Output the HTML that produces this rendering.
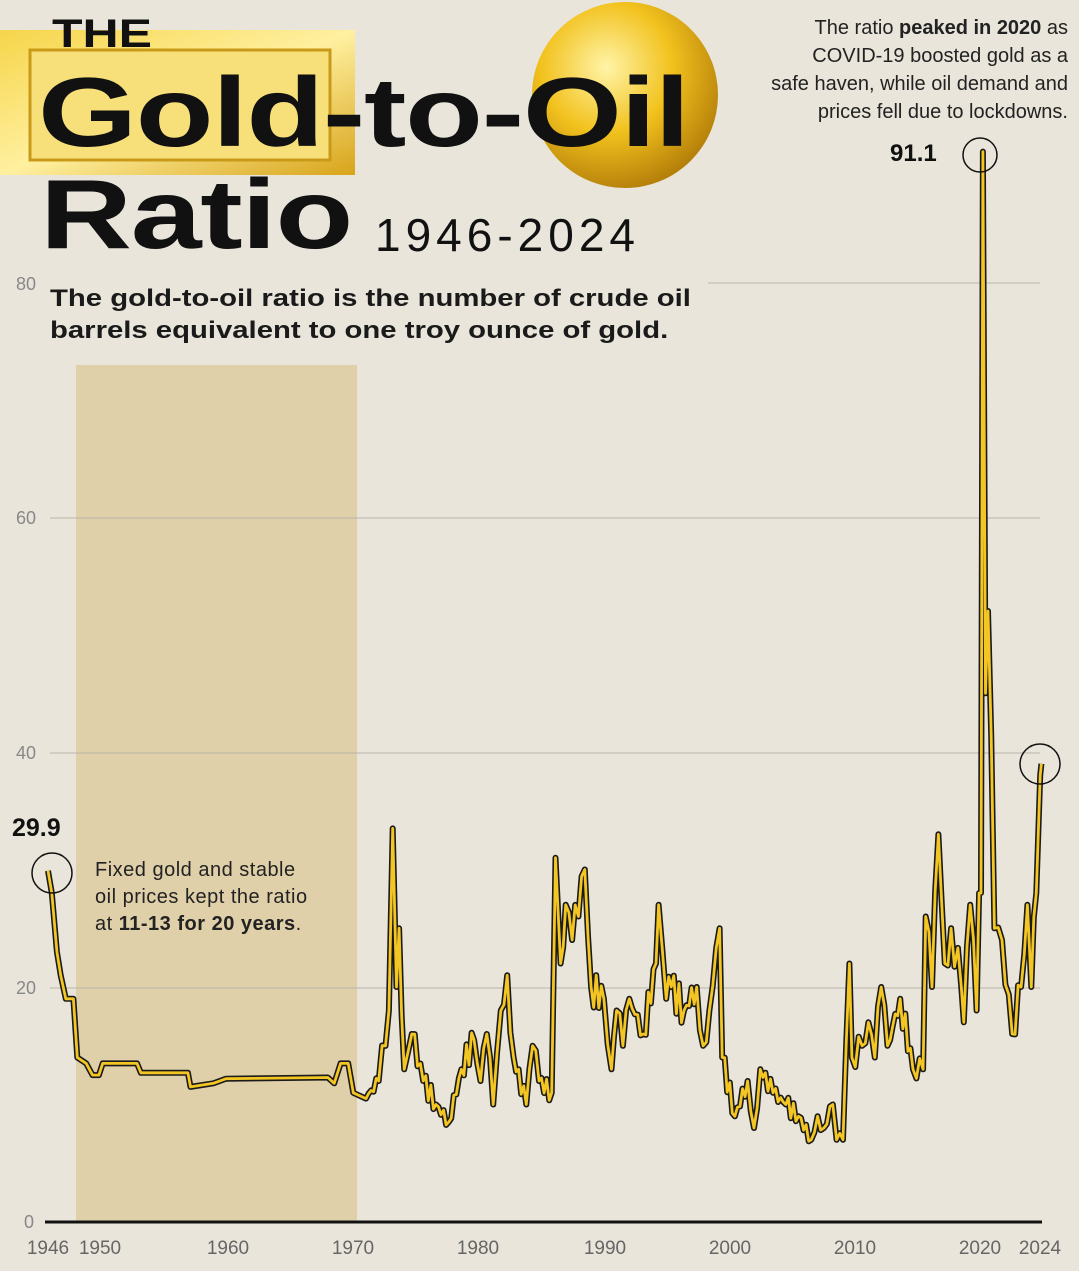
<!DOCTYPE html>
<html><head><meta charset="utf-8">
<style>
html,body{margin:0;padding:0;}
body{width:1079px;height:1271px;background:#e9e5da;position:relative;overflow:hidden;font-family:"Liberation Sans",sans-serif;}
.t{position:absolute;white-space:nowrap;}
</style></head><body>
<svg width="1079" height="1271" style="position:absolute;left:0;top:0">
<defs>
<linearGradient id="bar" x1="0" y1="0" x2="1" y2="1">
<stop offset="0" stop-color="#f6d54a"/><stop offset="0.5" stop-color="#fff0a0"/><stop offset="1" stop-color="#d8a41a"/></linearGradient>
<radialGradient id="drop" cx="0.4" cy="0.35" r="0.7">
<stop offset="0" stop-color="#fff4a8"/><stop offset="0.5" stop-color="#f2c21e"/><stop offset="1" stop-color="#b07a08"/></radialGradient>
</defs>
<rect x="76" y="365" width="281" height="857" fill="#e0d0aa"/>
<g stroke="#b9b5aa" stroke-width="1">
<line x1="708" y1="283" x2="1040" y2="283"/>
<line x1="50" y1="518" x2="1040" y2="518"/>
<line x1="50" y1="753" x2="1040" y2="753"/>
<line x1="50" y1="988" x2="1040" y2="988"/>
</g>
<line x1="45" y1="1222" x2="1042" y2="1222" stroke="#111" stroke-width="3"/>
<rect x="0" y="30" width="355" height="145" fill="url(#bar)"/>
<rect x="30" y="50" width="300" height="110" fill="#f7e07a" stroke="#c99a18" stroke-width="3"/>
<circle cx="625" cy="95" r="93" fill="url(#drop)"/>
<path id="ln" d="" fill="none" stroke="#1a1a1a" stroke-width="6" stroke-linejoin="round"/>
<path id="ln2" d="" fill="none" stroke="#f3c623" stroke-width="2.8" stroke-linejoin="round"/>
<g fill="none" stroke="#111" stroke-width="1.5">
<circle cx="980" cy="155" r="17"/>
<circle cx="1040" cy="764" r="20"/>
<circle cx="52" cy="873" r="20"/>
</g>
</svg>
<div class="t" style="left:52px;top:12px;font-size:40px;font-weight:900;color:#111;transform:scaleX(1.25);transform-origin:0 0;">THE</div>
<div class="t" style="left:38px;top:56px;font-size:98px;font-weight:900;color:#111;letter-spacing:-1px;transform:scaleX(1.3);transform-origin:0 0;">Gold-to-Oil</div>
<div class="t" style="left:40px;top:158px;font-size:98px;font-weight:900;color:#111;letter-spacing:-1px;transform:scaleX(1.3);transform-origin:0 0;">Ratio</div>
<div class="t" style="left:375px;top:208px;font-size:46px;color:#111;letter-spacing:5px;">1946-2024</div>
<div class="t" style="left:50px;top:283px;font-size:24px;font-weight:bold;color:#1a1a1a;line-height:32px;transform:scaleX(1.22);transform-origin:0 0;">The gold-to-oil ratio is the number of crude oil<br>barrels equivalent to one troy ounce of gold.</div>
<div class="t" style="right:11px;top:14px;font-size:20px;color:#222;line-height:28px;text-align:right;">The ratio <b>peaked in 2020</b> as<br>COVID-19 boosted gold as a<br>safe haven, while oil demand and<br>prices fell due to lockdowns.</div>
<div class="t" style="left:890px;top:140px;font-size:24px;font-weight:900;color:#111;">91.1</div>
<div class="t" style="left:12px;top:814px;font-size:25px;font-weight:900;color:#111;">29.9</div>
<div class="t" style="left:95px;top:857px;font-size:20px;color:#222;line-height:27px;letter-spacing:0.5px;">Fixed gold and stable<br>oil prices kept the ratio<br>at <b>11-13 for 20 years</b>.</div>
<div class="t" style="left:16px;top:274px;font-size:18px;color:#888;">80</div>
<div class="t" style="left:16px;top:508px;font-size:18px;color:#888;">60</div>
<div class="t" style="left:16px;top:743px;font-size:18px;color:#888;">40</div>
<div class="t" style="left:16px;top:978px;font-size:18px;color:#888;">20</div>
<div class="t" style="left:24px;top:1212px;font-size:18px;color:#888;">0</div>
<div id="xl"></div>
<script>
var X=function(y){return 48+(y-1946)*12.72;},Y=function(v){return 1222-v*11.75;};
var d=[[1946,29.9],[1946.3,28],[1946.7,23],[1947,21],[1947.4,19],[1948,19],[1948.3,14],[1949,13.5],[1949.5,12.5],[1950,12.5],[1950.3,13.5],[1953,13.5],[1953.3,12.7],[1957,12.7],[1957.2,11.5],[1959,11.8],[1960,12.2],[1968,12.3],[1968.5,11.8],[1969,13.5],[1969.6,13.5],[1970,11],[1971,10.5],[1972,12],[1972.8,18],[1973.1,33.5],[1973.4,20],[1973.6,25],[1974,13],[1974.6,16],[1975.5,12],[1976.5,10],[1977.5,8.5],[1978.5,13],[1979.5,15.5],[1980,12],[1980.5,16],[1981,10],[1981.6,18],[1982.1,21],[1982.6,14],[1983.6,10],[1984.1,15],[1984.6,12],[1985.6,11],[1985.9,31],[1986.3,22],[1986.7,27],[1987.2,24],[1987.7,26],[1988.2,30],[1988.7,20],[1989.7,19],[1990.3,13],[1990.7,18],[1991.2,15],[1991.7,19],[1992.8,16],[1993.8,22],[1994,27],[1994.6,19],[1995,20],[1996,18],[1997,20],[1997.5,15],[1998,18],[1998.8,25],[1999,14],[2000,9],[2001,12],[2001.5,8],[2002,13],[2003,11],[2004,10],[2005,9],[2006,7],[2006.5,9],[2007,8],[2007.7,10],[2008,7],[2008.5,7],[2009,22],[2009.2,14],[2010,15],[2010.5,17],[2011,14],[2011.5,20],[2012,15],[2013,19],[2014,13],[2014.8,13],[2015,26],[2015.5,20],[2016,33],[2016.5,22],[2017,25],[2017.8,20],[2018,17],[2018.5,27],[2019,18],[2019.2,28],[2019.35,28],[2019.5,91.1],[2019.7,45],[2019.9,52],[2020.4,25],[2021,24],[2021.8,16],[2022.5,20],[2023,27],[2023.3,20],[2023.7,28],[2024,38],[2024.1,39]];
var pts=[];
for(var i=0;i<d.length-1;i++){var a=d[i],b=d[i+1];pts.push(a);var n=Math.floor((b[0]-a[0])*5);
 if(a[0]>1970&&n>1){for(var k=1;k<n;k++){var f=k/n;var v=a[1]+(b[1]-a[1])*f;v+=Math.sin(i*7.3+k*2.9)*v*0.08;pts.push([a[0]+(b[0]-a[0])*f,v]);}}}
pts.push(d[d.length-1]);
var p="M"+pts.map(function(a){return X(a[0]).toFixed(1)+","+Y(a[1]).toFixed(1)}).join(" L");
document.getElementById("ln").setAttribute("d",p);document.getElementById("ln2").setAttribute("d",p);
var h="";[[1946,48],[1950,100],[1960,228],[1970,353],[1980,478],[1990,605],[2000,730],[2010,855],[2020,980],[2024,1040]].forEach(function(y){h+='<div class="t" style="left:'+y[1]+'px;top:1238px;font-size:19px;color:#666;transform:translateX(-50%);">'+y[0]+'</div>';});
document.getElementById("xl").innerHTML=h;
</script>
</body></html>
